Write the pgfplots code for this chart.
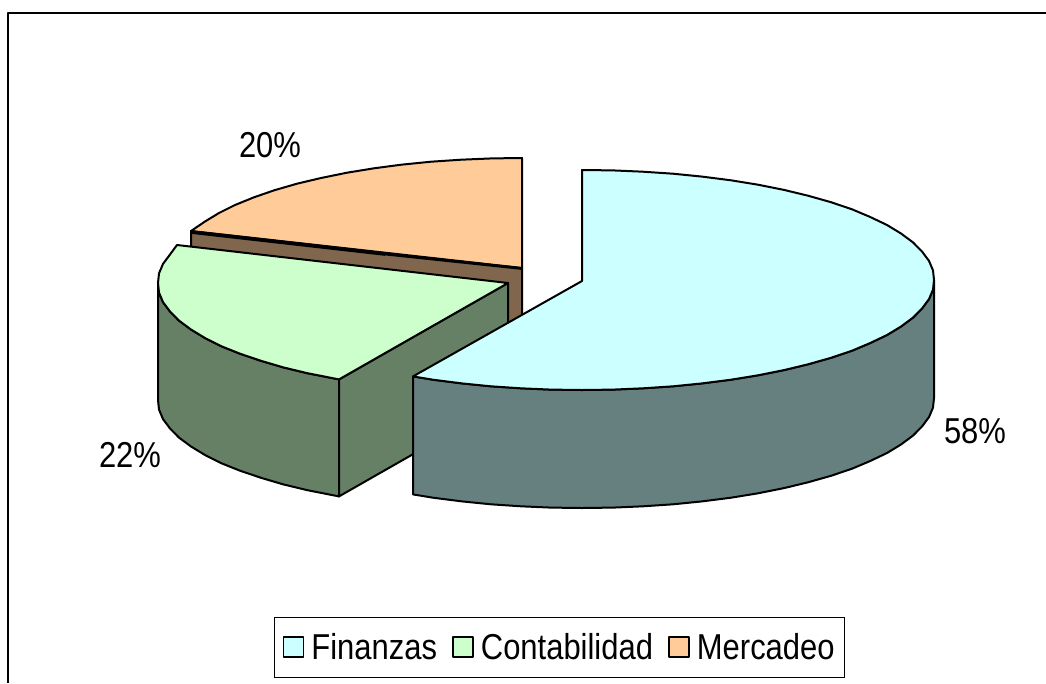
\documentclass[border=0pt]{standalone}
\usepackage{pgfplots}
\usepackage{fontspec}
\setmainfont{Liberation Sans}
\pgfplotsset{compat=1.18}
\definecolor{finT}{RGB}{204,255,255}
\definecolor{conT}{RGB}{204,255,204}
\definecolor{merT}{RGB}{255,204,153}
\definecolor{finW}{RGB}{102,128,128}
\definecolor{conW}{RGB}{102,128,102}
\definecolor{merW}{RGB}{128,102,76}
\newcommand{\lab}[1]{\fontsize{36}{36}\selectfont\scalebox{.86}[1]{#1}}
\begin{document}
\begin{tikzpicture}
\path[use as bounding box] (0,0) rectangle (1046pt,683pt);
\begin{axis}[
  at={(0,0)}, anchor=south west,
  scale only axis, width=1046pt, height=683pt,
  xmin=0, xmax=1046, ymin=0, ymax=683, y dir=reverse,
  hide axis, clip=true,
  legend columns=3,
  legend cell align=left,
  legend image code/.code={\draw[#1] (0pt,-10pt) rectangle (20pt,10pt); \path[draw=none,fill=none] (26pt,0pt) circle (0pt);},
  legend style={at={(axis cs:274,617)}, anchor=north west, draw=black, line width=1pt,
    inner xsep=8pt, inner ysep=14pt,
    /tikz/every even column/.append style={column sep=13pt}},
  every axis plot/.append style={line width=2pt, line join=round, forget plot},
]
% frame
\addplot[black, line width=1.6pt] coordinates {(8,683) (8,13) (1046,13)};
% Mercadeo
\addplot[fill=merW, draw=black] coordinates {(191,231) (522,268) (522,385) (191,349)} -- cycle;
\addplot[fill=merT, draw=black] coordinates {(522,268) (522,158) (492,158.4) (461,159.7) (431,161.7) (402,164.6) (374,168.3) (347,172.7) (321,178) (297,183.7) (274.5,190.2) (254,197.3) (235,205) (219,213) (205,221.5) (191,231)} -- cycle;
\addplot[black, line width=3.6pt] coordinates {(191,232) (385,254)};
\addplot[black, line width=2.8pt] coordinates {(385,254) (522,268.5)};
% Contabilidad
\addplot[fill=conW, draw=black] coordinates {(339,379.4) (307,373.1) (283,367.3) (261,360.8) (240,353.7) (221,346.1) (205,338) (191,329.5) (179,320.6) (170,311.5) (163,302.1) (159,292.6) (158,283) (158,400) (159,409.6) (163,419.1) (170,428.5) (179,437.6) (191,446.5) (205,455) (221,463.1) (240,470.7) (261,477.8) (283,484.3) (307,490.1) (339,496.4)} -- cycle;
\addplot[fill=conW, draw=black] coordinates {(339,379.4) (508,283) (508,400) (339,496.4)} -- cycle;
\addplot[fill=conT, draw=black] coordinates {(508,283) (339,379.4) (307,373.1) (283,367.3) (261,360.8) (240,353.7) (221,346.1) (205,338) (191,329.5) (179,320.6) (170,311.5) (163,302.1) (159,292.6) (158,283) (159,273.4) (163,263.9) (170,254.5) (177,245)} -- cycle;
% Finanzas
\addplot[fill=finW, draw=black] coordinates {(413,376.4) (433,379.7) (462,383.4) (491,386.3) (521,388.3) (551,389.6) (582,390) (613,389.6) (643,388.3) (673,386.3) (702,383.4) (731,379.7) (758,375.3) (784,370.1) (808,364.3) (831,357.8) (852,350.7) (870,343.1) (887,335) (901,326.5) (913,317.6) (922,308.5) (929,299.1) (933,289.6) (934,280) (934,398) (933,407.6) (929,417.1) (922,426.5) (913,435.6) (901,444.5) (887,453) (870,461.1) (852,468.7) (831,475.8) (808,482.3) (784,488.1) (758,493.3) (731,497.7) (702,501.4) (673,504.3) (643,506.3) (613,507.6) (582,508) (551,507.6) (521,506.3) (491,504.3) (462,501.4) (433,497.7) (413,494.4)} -- cycle;
\addplot[fill=finT, draw=black] coordinates {(582,281) (582,170) (613,170.4) (643,171.7) (673,173.7) (702,176.6) (731,180.3) (758,184.7) (784,189.9) (808,195.7) (831,202.2) (852,209.3) (870,216.9) (887,225) (901,233.5) (913,242.4) (922,251.5) (929,260.9) (933,270.4) (934,280) (933,289.6) (929,299.1) (922,308.5) (913,317.6) (901,326.5) (887,335) (870,343.1) (852,350.7) (831,357.8) (808,364.3) (784,370.1) (758,375.3) (731,379.7) (702,383.4) (673,386.3) (643,388.3) (613,389.6) (582,390) (551,389.6) (521,388.3) (491,386.3) (462,383.4) (433,379.7) (413,376.4)} -- cycle;
% labels
\node at (axis cs:270,145) {\lab{20\%}};
\node at (axis cs:130,455) {\lab{22\%}};
\node at (axis cs:975,431) {\lab{58\%}};
% legend
\addlegendimage{fill=finT, draw=black, line width=1.8pt}
\addlegendentry{\lab{Finanzas}}
\addlegendimage{fill=conT, draw=black, line width=1.8pt}
\addlegendentry{\lab{Contabilidad}}
\addlegendimage{fill=merT, draw=black, line width=1.8pt}
\addlegendentry{\lab{Mercadeo}}
\end{axis}
\end{tikzpicture}
\end{document}
